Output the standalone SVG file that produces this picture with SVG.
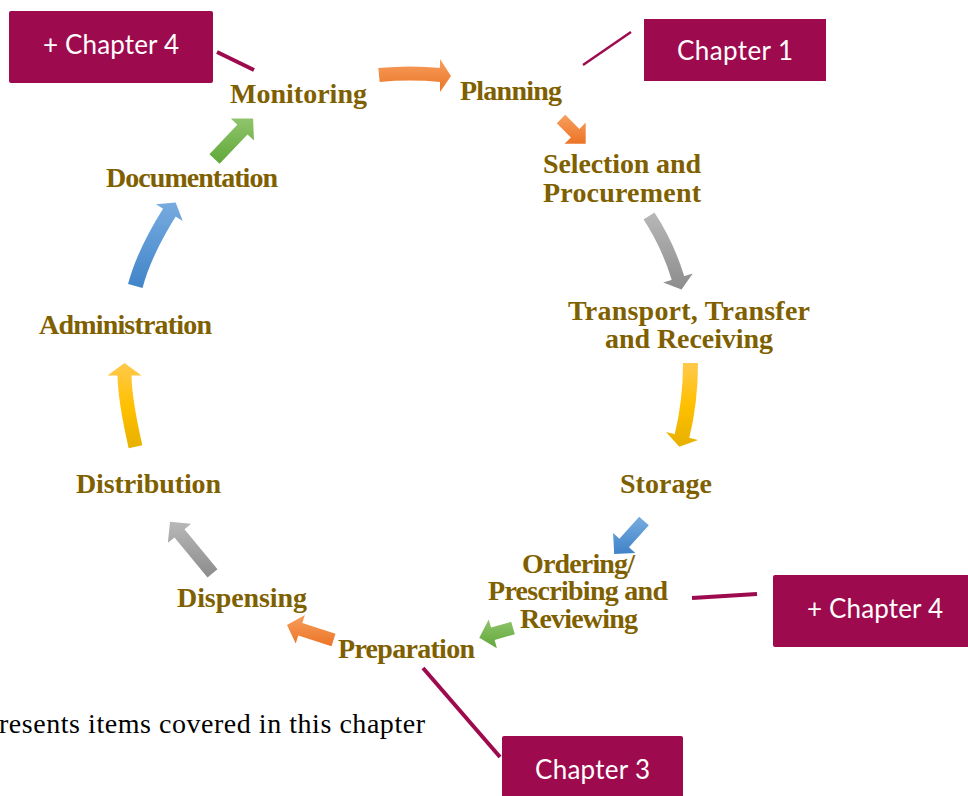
<svg xmlns="http://www.w3.org/2000/svg" xmlns:xlink="http://www.w3.org/1999/xlink" width="968" height="796" viewBox="0 0 968 796">
<style>
.lbl{font-family:"Liberation Serif","Times New Roman",serif;font-weight:bold;font-size:28px;fill:#7F6000;text-anchor:middle}
.box{fill:#9E0A4E}
.btx{font-family:Lato,"Liberation Sans",sans-serif;font-size:26px;fill:#FFFFFF;text-anchor:middle}
.lnk{stroke:#9E0A4E;fill:none}
.note{font-family:"Liberation Serif","Times New Roman",serif;font-size:28px;fill:#000000}
</style>
<defs>
<linearGradient id="gOr" x1="0" y1="0" x2="0" y2="1"><stop offset="0" stop-color="#F79F5E"/><stop offset="1" stop-color="#EC7426"/></linearGradient>
<linearGradient id="gGy" x1="0" y1="0" x2="0" y2="1"><stop offset="0" stop-color="#B8B8B8"/><stop offset="1" stop-color="#8C8C8C"/></linearGradient>
<linearGradient id="gYe" x1="0" y1="0" x2="0" y2="1"><stop offset="0" stop-color="#FFC94C"/><stop offset="0.5" stop-color="#FFC000"/><stop offset="1" stop-color="#E6B000"/></linearGradient>
<linearGradient id="gBl" x1="0" y1="0" x2="0" y2="1"><stop offset="0" stop-color="#78ACE0"/><stop offset="1" stop-color="#3F83C8"/></linearGradient>
<linearGradient id="gGr" x1="0" y1="0" x2="0" y2="1"><stop offset="0" stop-color="#90C46C"/><stop offset="1" stop-color="#60A838"/></linearGradient>
<linearGradient id="a1" xlink:href="#gOr" gradientUnits="userSpaceOnUse" x1="0" y1="59" x2="0" y2="92"/>
<linearGradient id="a3" xlink:href="#gGy" gradientUnits="userSpaceOnUse" x1="0" y1="212" x2="0" y2="290"/>
<linearGradient id="a4" xlink:href="#gYe" gradientUnits="userSpaceOnUse" x1="0" y1="363" x2="0" y2="447"/>
<linearGradient id="a9" xlink:href="#gYe" gradientUnits="userSpaceOnUse" x1="0" y1="363" x2="0" y2="450"/>
<linearGradient id="a10" xlink:href="#gBl" gradientUnits="userSpaceOnUse" x1="0" y1="201" x2="0" y2="291"/>
</defs>

<g id="connectors">
  <g id="arrow-monitoring-planning">
    <path d="M379,75 Q410,72 441,75" fill="none" stroke="url(#a1)" stroke-width="14"/>
    <polygon points="440,59 451,76 440,92" fill="url(#a1)"/>
  </g>
  <polygon id="arrow-planning-selection" points="565.2,114.8 579.4,128.9 585.7,122.5 585.7,143.7 564.5,143.7 570.9,137.4 556.8,123.2" fill="url(#gOr)"/>
  <g id="arrow-selection-transport">
    <path d="M649,216 Q668,245 678.3,279" fill="none" stroke="url(#a3)" stroke-width="13"/>
    <polygon points="692.8,273.5 681.5,289.5 663.2,282.5" fill="url(#a3)"/>
  </g>
  <g id="arrow-transport-storage">
    <path d="M690.5,363 Q690.5,402 681.8,437" fill="none" stroke="url(#a4)" stroke-width="15"/>
    <polygon points="698,440 679.3,446.7 666,432" fill="url(#a4)"/>
  </g>
  <polygon id="arrow-storage-ordering" points="648.8,525.3 629.0,547.3 635.3,553.0 614.2,554.1 613.1,533.0 619.4,538.7 639.2,516.7" fill="url(#gBl)"/>
  <polygon id="arrow-ordering-preparation" points="514.8,634.2 494.6,640.0 496.9,648.2 479.3,637.7 488.7,619.4 491.0,627.6 511.2,621.8" fill="url(#gGr)"/>
  <polygon id="arrow-preparation-dispensing" points="335.5,633.8 302.3,623.1 304.9,615.0 287,625 295.7,643.6 298.3,635.5 331.5,646.2" fill="url(#gOr)"/>
  <polygon id="arrow-dispensing-distribution" points="217.5,569.2 184.5,529.2 191.1,523.8 170,521.7 167.9,542.8 174.5,537.4 207.5,577.4" fill="url(#gGy)"/>
  <g id="arrow-distribution-administration">
    <path d="M135.5,446.7 Q124.5,398.6 124.5,374" fill="none" stroke="url(#a9)" stroke-width="14"/>
    <polygon points="107.5,375.5 124.5,363 141.5,375.5" fill="url(#a9)"/>
  </g>
  <g id="arrow-administration-documentation">
    <path d="M135.3,286 Q143.7,253.7 169.8,211.9" fill="none" stroke="url(#a10)" stroke-width="15"/>
    <polygon points="156,204.3 175.7,202.5 182.7,221" fill="url(#a10)"/>
  </g>
  <polygon id="arrow-documentation-monitoring" points="219.6,163.8 247.5,134.4 254.0,140.6 253.1,118.4 230.8,118.6 237.3,124.8 209.4,154.2" fill="url(#gGr)"/>
  <line id="link-ch4-monitoring" class="lnk" x1="217" y1="52" x2="254" y2="70" stroke-width="4"/>
  <line id="link-ch1-planning" class="lnk" x1="583" y1="65" x2="631" y2="32" stroke-width="2.5"/>
  <line id="link-ch4-ordering" class="lnk" x1="692" y1="598" x2="757" y2="594" stroke-width="4"/>
  <line id="link-ch3-preparation" class="lnk" x1="423" y1="668" x2="500" y2="757" stroke-width="4"/>
</g>

<g id="monitoring"><text class="lbl" x="298.5" y="103" textLength="137">Monitoring</text></g>
<g id="planning"><text class="lbl" x="511" y="100" textLength="102">Planning</text></g>
<g id="selection"><text class="lbl" x="622" y="173" textLength="158">Selection and</text><text class="lbl" x="622" y="202" textLength="158">Procurement</text></g>
<g id="transport"><text class="lbl" x="689" y="320" textLength="242">Transport, Transfer</text><text class="lbl" x="689" y="348" textLength="168">and Receiving</text></g>
<g id="storage"><text class="lbl" x="666" y="493" textLength="92">Storage</text></g>
<g id="ordering"><text class="lbl" x="578.5" y="573" textLength="113">Ordering/</text><text class="lbl" x="578" y="600" textLength="180">Prescribing and</text><text class="lbl" x="579" y="628" textLength="118">Reviewing</text></g>
<g id="preparation"><text class="lbl" x="406.5" y="658" textLength="137">Preparation</text></g>
<g id="dispensing"><text class="lbl" x="242" y="607" textLength="130">Dispensing</text></g>
<g id="distribution"><text class="lbl" x="148.5" y="493" textLength="145">Distribution</text></g>
<g id="administration"><text class="lbl" x="125.5" y="334" textLength="173">Administration</text></g>
<g id="documentation"><text class="lbl" x="192" y="187" textLength="172">Documentation</text></g>

<g id="chapter4-top"><rect class="box" x="9" y="11" width="204" height="72" rx="2"/><text class="btx" x="111" y="54" textLength="136">+ Chapter 4</text></g>
<g id="chapter1"><rect class="box" x="644" y="19" width="182" height="62"/><text class="btx" x="735" y="60" textLength="116">Chapter 1</text></g>
<g id="chapter4-right"><rect class="box" x="773" y="575" width="205" height="72" rx="2"/><text class="btx" x="875" y="618" textLength="136">+ Chapter 4</text></g>
<g id="chapter3"><rect class="box" x="502" y="736" width="181" height="70" rx="2"/><text class="btx" x="592.5" y="779" textLength="115">Chapter 3</text></g>

<g id="note"><text class="note" x="-1" y="733" textLength="426">resents items covered in this chapter</text></g>
</svg>
